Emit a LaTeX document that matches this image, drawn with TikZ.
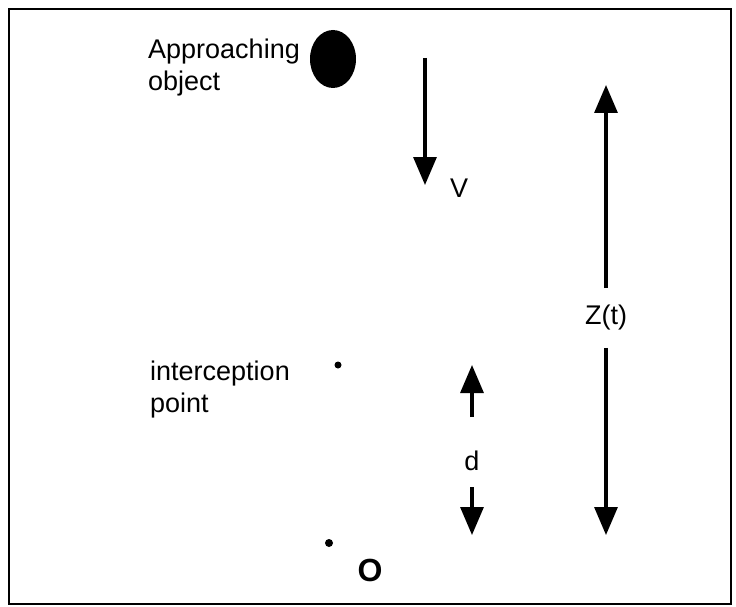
\documentclass[tikz,border=0pt]{standalone}
\usepackage{fontspec}
\setmainfont{Liberation Sans}
\usetikzlibrary{arrows.meta,shapes.geometric}
\begin{document}
\begin{tikzpicture}[x=1pt,y=-1pt,
  lbl/.style={font=\fontsize{27}{32}\selectfont, inner sep=0pt},
  arr/.style={line width=3.2pt, -{Triangle[length=28pt,width=23pt]}},
  dotnode/.style={circle, fill=black, inner sep=0pt, minimum size=7pt}]
\useasboundingbox (0,0) rectangle (736,607);
\draw[line width=2.5pt] (9,9) rectangle (731,604);
% approaching object
\node[ellipse, fill=black, inner sep=0pt, minimum width=46pt, minimum height=58pt] (obj) at (333,59) {};
\node[lbl, anchor=base west, align=left] (objlbl) at (148,91) {Approaching\\object};
% velocity arrow
\coordinate (vtop) at (425,58);
\coordinate (vbot) at (425,185);
\draw[arr] (vtop) -- (vbot);
\node[lbl] (v) at (459,188) {V};
% Z(t)
\node[lbl, inner ysep=17pt, inner xsep=2pt] (zt) at (606,318) {Z(t)};
\coordinate (ztop) at (606,85);
\coordinate (zbot) at (606,535);
\draw[arr] (zt) -- (ztop);
\draw[arr] (zt) -- (zbot);
% interception point
\node[dotnode] (ip) at (338,365) {};
\node[lbl, anchor=base west, align=left] (iplbl) at (150,412) {interception\\point};
% d
\node[lbl] (d) at (472,461) {d};
\coordinate (dua) at (472,417);
\coordinate (dtop) at (472,365);
\coordinate (dda) at (472,487);
\coordinate (dbot) at (472,535);
\draw[arr] (dua) -- (dtop);
\draw[arr] (dda) -- (dbot);
% observer
\node[dotnode, minimum size=8pt] (o) at (329,543) {};
\node[lbl, font=\fontsize{32}{36}\selectfont\bfseries] (olbl) at (370,570) {O};
\end{tikzpicture}
\end{document}
